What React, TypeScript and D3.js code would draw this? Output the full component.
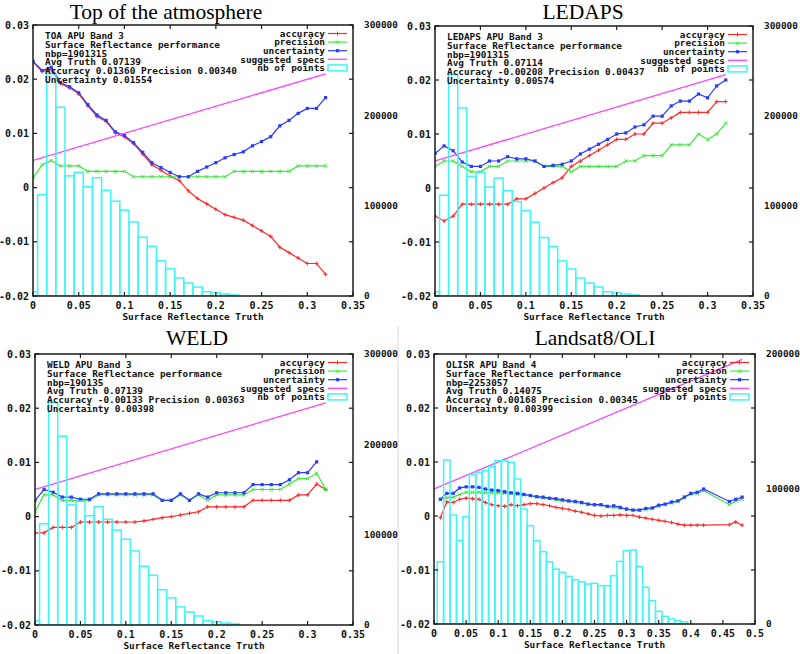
import React from 'react';
import * as d3 from 'd3';

// ---- data ----
const titles = ['Top of the atmosphere', 'LEDAPS', 'WELD', 'Landsat8/OLI'];
const legendLabels = ['accuracy', 'precision', 'uncertainty', 'suggested specs', 'nb of points'];

const infoTOA = ['TOA APU Band 3', 'Surface Reflectance performance', 'nbp=1901315', 'Avg Truth 0.07139', 'Accuracy 0.01360 Precision 0.00340', 'Uncertainty 0.01554'];
const infoLEDAPS = ['LEDAPS APU Band 3', 'Surface Reflectance performance', 'nbp=1901315', 'Avg Truth 0.07114', 'Accuracy -0.00208 Precision 0.00437', 'Uncertainty 0.00574'];
const infoWELD = ['WELD APU Band 3', 'Surface Reflectance performance', 'nbp=190135', 'Avg Truth 0.07139', 'Accuracy -0.00133 Precision 0.00363', 'Uncertainty 0.00398'];
const infoOLI = ['OLISR APU Band 4', 'Surface Reflectance performance', 'nbp=2253057', 'Avg Truth 0.14075', 'Accuracy 0.00168 Precision 0.00345', 'Uncertainty 0.00399'];

// reflectance bins (band 3 panels)
const band3X = [0, 0.01, 0.02, 0.03, 0.04, 0.05, 0.06, 0.07, 0.08, 0.09, 0.1, 0.11, 0.12, 0.13, 0.14, 0.15, 0.16,
  0.17, 0.18, 0.19, 0.2, 0.21, 0.22, 0.23, 0.24, 0.25, 0.26, 0.27, 0.28, 0.29, 0.3, 0.31, 0.32];

const toaAccuracy = [0.0232, 0.0214, 0.0218, 0.0192, 0.0184, 0.0173, 0.0151, 0.0131, 0.0122, 0.0101, 0.0094, 0.0081, 0.0062,
  0.0042, 0.0032, 0.0021, 0.0013, -0.0006, -0.002, -0.003, -0.004, -0.005, -0.0055, -0.006, -0.007, -0.008, -0.009,
  -0.011, -0.012, -0.013, -0.014, -0.014, -0.016];
const toaPrecision = [0.0018, 0.0042, 0.005, 0.004, 0.004, 0.004, 0.003, 0.003, 0.003, 0.003, 0.003, 0.002, 0.002, 0.002,
  0.002, 0.002, 0.002, 0.002, 0.002, 0.002, 0.002, 0.002, 0.003, 0.003, 0.003, 0.003, 0.003, 0.003, 0.003, 0.004, 0.004,
  0.004, 0.004];
const toaUncertainty = [0.0233, 0.0216, 0.0222, 0.0194, 0.0186, 0.0175, 0.0153, 0.0134, 0.0124, 0.0103, 0.0096, 0.0083,
  0.0065, 0.0046, 0.0037, 0.0028, 0.002, 0.002, 0.003, 0.0038, 0.0046, 0.0055, 0.0061, 0.0066, 0.0077, 0.0085, 0.0094,
  0.0114, 0.0124, 0.0137, 0.0146, 0.0146, 0.0166];

const ledapsAccuracy = [-0.0052, -0.0061, -0.0052, -0.003, -0.003, -0.003, -0.003, -0.003, -0.003, -0.002, -0.002, -0.001,
  0.0, 0.001, 0.0019, 0.004, 0.005, 0.006, 0.007, 0.008, 0.009, 0.009, 0.01, 0.01, 0.012, 0.012, 0.013, 0.014, 0.014,
  0.014, 0.014, 0.016, 0.016];
const ledapsPrecision = [0.004, 0.005, 0.005, 0.004, 0.003, 0.003, 0.004, 0.004, 0.005, 0.005, 0.005, 0.005, 0.004, 0.004,
  0.004, 0.003, 0.004, 0.004, 0.004, 0.004, 0.004, 0.005, 0.005, 0.006, 0.006, 0.006, 0.008, 0.008, 0.008, 0.01, 0.009,
  0.01, 0.012];
const ledapsUncertainty = [0.0064, 0.0078, 0.0069, 0.0048, 0.004, 0.004, 0.005, 0.005, 0.0058, 0.0054, 0.0054, 0.005, 0.004,
  0.0042, 0.0044, 0.005, 0.0063, 0.0072, 0.0081, 0.009, 0.01, 0.0102, 0.0113, 0.0117, 0.0133, 0.0133, 0.0152, 0.0161,
  0.0161, 0.0174, 0.0167, 0.0189, 0.02];

const weldAccuracy = [-0.003, -0.003, -0.002, -0.002, -0.002, -0.001, -0.001, -0.001, -0.001, -0.001, -0.001, -0.001,
  -0.0008, -0.0005, -0.0002, 0.0, 0.0003, 0.0006, 0.0009, 0.0018, 0.0018, 0.0018, 0.0018, 0.0018, 0.003, 0.003, 0.003,
  0.003, 0.003, 0.004, 0.004, 0.006, 0.005];
const weldPrecision = [0.001, 0.004, 0.004, 0.003, 0.003, 0.003, 0.003, 0.004, 0.004, 0.004, 0.004, 0.004, 0.004, 0.004,
  0.003, 0.003, 0.004, 0.003, 0.004, 0.003, 0.004, 0.004, 0.004, 0.004, 0.005, 0.005, 0.005, 0.005, 0.006, 0.007, 0.007,
  0.008, 0.005];
const weldUncertainty = [0.003, 0.005, 0.0045, 0.0036, 0.0036, 0.0032, 0.0032, 0.0042, 0.0042, 0.0042, 0.0042, 0.0042,
  0.0042, 0.0042, 0.003, 0.003, 0.0042, 0.003, 0.0042, 0.0036, 0.0044, 0.0044, 0.0044, 0.0044, 0.0059, 0.0059, 0.0059,
  0.0059, 0.0068, 0.0081, 0.0081, 0.0101, null];

// OLI bins (0.43-0.45 are missing in the source)
const oliX = [0.01, 0.02, 0.03, 0.04, 0.05, 0.06, 0.07, 0.08, 0.09, 0.1, 0.11, 0.12, 0.13, 0.14, 0.15, 0.16, 0.17, 0.18,
  0.19, 0.2, 0.21, 0.22, 0.23, 0.24, 0.25, 0.26, 0.27, 0.28, 0.29, 0.3, 0.31, 0.32, 0.33, 0.34, 0.35, 0.36, 0.37, 0.38,
  0.39, 0.4, 0.41, 0.42, 0.46, 0.47, 0.48];
const oliAccuracy = [-0.0003, 0.0026, 0.0025, 0.0031, 0.0033, 0.0032, 0.0031, 0.0025, 0.0021, 0.0019, 0.0018, 0.0021,
  0.0019, 0.0021, 0.0023, 0.0023, 0.0021, 0.0019, 0.0016, 0.0014, 0.0012, 0.0009, 0.0007, 0.0004, 0.0001, 0.0, 0.0001,
  0.0001, 0.0002, 0.0001, 0.0001, -0.0002, -0.0004, -0.0006, -0.0008, -0.001, -0.0012, -0.0015, -0.0017, -0.0017,
  -0.0017, -0.0017, -0.0016, -0.0011, -0.0017];
const oliPrecision = [0.003, 0.0034, 0.0035, 0.004, 0.0044, 0.0044, 0.0044, 0.0043, 0.0043, 0.0043, 0.0042, 0.0042, 0.004,
  0.0039, 0.0037, 0.0035, 0.0033, 0.0032, 0.003, 0.0028, 0.0027, 0.0025, 0.0024, 0.0022, 0.002, 0.002, 0.0017, 0.0016,
  0.0014, 0.0012, 0.0011, 0.0011, 0.0012, 0.0014, 0.0018, 0.0021, 0.0024, 0.0027, 0.0034, 0.004, 0.0042, 0.0047, 0.0021,
  0.0028, 0.0031];
const oliUncertainty = [0.0031, 0.0042, 0.0042, 0.0052, 0.0054, 0.0054, 0.0053, 0.005, 0.0048, 0.0047, 0.0045, 0.0043,
  0.0042, 0.004, 0.0038, 0.0036, 0.0035, 0.0033, 0.0032, 0.003, 0.0028, 0.0027, 0.0025, 0.0022, 0.0021, 0.0021, 0.0018,
  0.0019, 0.0016, 0.0013, 0.0011, 0.0011, 0.0014, 0.0015, 0.002, 0.0022, 0.0026, 0.0028, 0.0035, 0.0042, 0.0044, 0.005,
  0.0027, 0.0031, 0.0035];

// suggested specs (straight line)
const band3SpecX = [0, 0.32];
const band3SpecY = [0.005, 0.021];
const oliSpecX = [0, 0.48];
const oliSpecY = [0.005, 0.029];

// nb of points histograms
const band3HistX = [0, 0.01, 0.02, 0.03, 0.04, 0.05, 0.06, 0.07, 0.08, 0.09, 0.1, 0.11, 0.12, 0.13, 0.14, 0.15, 0.16, 0.17,
  0.18, 0.19, 0.2, 0.21, 0.22];
const band3Counts = [4800, 112000, 246000, 209000, 133000, 137000, 121000, 131000, 117000, 105000, 95000, 82000, 65000,
  55000, 39000, 30000, 20000, 14400, 10000, 4800, 3500, 2200, 1100];
const oliHistX = [0.01, 0.02, 0.03, 0.04, 0.05, 0.06, 0.07, 0.08, 0.09, 0.1, 0.11, 0.12, 0.13, 0.14, 0.15, 0.16, 0.17, 0.18,
  0.19, 0.2, 0.21, 0.22, 0.23, 0.24, 0.25, 0.26, 0.27, 0.28, 0.29, 0.3, 0.31, 0.32, 0.33, 0.34, 0.35, 0.36, 0.37, 0.38, 0.39];
const oliCounts = [46100, 121500, 80700, 61700, 79500, 110600, 112300, 113600, 116500, 121000, 121000, 119700, 107400, 85200,
  72800, 61700, 53600, 46100, 40700, 38300, 35300, 32800, 31300, 29600, 30100, 28400, 28400, 35800, 46400, 54300, 54800,
  42500, 27200, 17300, 9400, 5700, 3700, 2500, 1700];
const binWidth = 0.01;

// ---- styling ----
const MONO = '"DejaVu Sans Mono", "Liberation Mono", monospace';
const SERIF = '"Liberation Serif", "Times New Roman", "DejaVu Serif", serif';
const C_ACC = '#ff2a2a';
const C_PREC = '#3ee83e';
const C_UNC = '#2a3cff';
const C_SPEC = '#ff40ff';
const C_HIST = '#3ff5f5';

type Series = (number | null)[];
type PanelCfg = {
  id: string; title: string; titleX: number; titleY: number;
  left: number; right: number; top: number; bottom: number;
  xMax: number; xTickCount: number; y2Max: number; y2TickCount: number;
  info: string[]; xs: number[]; acc: Series; prec: Series; unc: Series;
  specX: number[]; specY: number[]; histX: number[]; histY: number[];
};

const panels: PanelCfg[] = [
  { id: 'toa', title: titles[0], titleX: 166, titleY: 19, left: 33, right: 353, top: 25, bottom: 296,
    xMax: 0.35, xTickCount: 7, y2Max: 300000, y2TickCount: 3, info: infoTOA, xs: band3X,
    acc: toaAccuracy, prec: toaPrecision, unc: toaUncertainty, specX: band3SpecX, specY: band3SpecY,
    histX: band3HistX, histY: band3Counts },
  { id: 'ledaps', title: titles[1], titleX: 583, titleY: 19, left: 435, right: 753, top: 26, bottom: 296,
    xMax: 0.35, xTickCount: 7, y2Max: 300000, y2TickCount: 3, info: infoLEDAPS, xs: band3X,
    acc: ledapsAccuracy, prec: ledapsPrecision, unc: ledapsUncertainty, specX: band3SpecX, specY: band3SpecY,
    histX: band3HistX, histY: band3Counts },
  { id: 'weld', title: titles[2], titleX: 197, titleY: 345, left: 35, right: 353, top: 354, bottom: 625,
    xMax: 0.35, xTickCount: 7, y2Max: 300000, y2TickCount: 3, info: infoWELD, xs: band3X,
    acc: weldAccuracy, prec: weldPrecision, unc: weldUncertainty, specX: band3SpecX, specY: band3SpecY,
    histX: band3HistX, histY: band3Counts },
  { id: 'oli', title: titles[3], titleX: 595, titleY: 345, left: 434, right: 755, top: 354, bottom: 624,
    xMax: 0.5, xTickCount: 10, y2Max: 200000, y2TickCount: 2, info: infoOLI, xs: oliX,
    acc: oliAccuracy, prec: oliPrecision, unc: oliUncertainty, specX: oliSpecX, specY: oliSpecY,
    histX: oliHistX, histY: oliCounts },
];

const plus = (cx: number, cy: number, s = 2) => `M${cx - s},${cy}H${cx + s}M${cx},${cy - s}V${cy + s}`;
const cross = (cx: number, cy: number, s = 1.7) => `M${cx - s},${cy - s}L${cx + s},${cy + s}M${cx - s},${cy + s}L${cx + s},${cy - s}`;

function Panel({ p }: { p: PanelCfg }) {
  const x = d3.scaleLinear().domain([0, p.xMax]).range([p.left, p.right]);
  const y = d3.scaleLinear().domain([-0.02, 0.03]).range([p.bottom, p.top]);
  const y2 = d3.scaleLinear().domain([0, p.y2Max]).range([p.bottom, p.top]);

  const path = (xs: number[], ys: Series) =>
    d3.line<number>()
      .defined((_, i) => ys[i] != null)
      .x((d) => x(d))
      .y((_, i) => y(ys[i] as number))(xs) || '';

  const pts = (ys: Series) => p.xs.map((v, i) => (ys[i] == null ? null : [x(v), y(ys[i] as number)])).filter(Boolean) as [number, number][];

  const clip = `clip-${p.id}`;
  const tk = 4;
  const legendX = p.right - 28;
  const sx0 = p.right - 25;
  const sx1 = p.right - 6;
  const rowY = (i: number) => p.top + 8.5 + i * 8.6;

  return (
    <g>
      <defs>
        <clipPath id={clip}>
          <rect x={p.left} y={p.top} width={p.right - p.left} height={p.bottom - p.top} />
        </clipPath>
      </defs>
      <text x={p.titleX} y={p.titleY} textAnchor="middle" fontFamily={SERIF} fontSize={21.5} fill="#000">{p.title}</text>

      <g clipPath={`url(#${clip})`}>
        <path d={path(p.xs, p.acc)} fill="none" stroke={C_ACC} strokeWidth={1.2} />
        {pts(p.acc).map(([cx, cy], i) => <path key={'a' + i} d={plus(cx, cy)} stroke={C_ACC} strokeWidth={1} />)}
        <path d={path(p.xs, p.prec)} fill="none" stroke={C_PREC} strokeWidth={1.2} />
        {pts(p.prec).map(([cx, cy], i) => <path key={'p' + i} d={cross(cx, cy)} stroke={C_PREC} strokeWidth={1} />)}
        <path d={path(p.xs, p.unc)} fill="none" stroke={C_UNC} strokeWidth={1.2} />
        {pts(p.unc).map(([cx, cy], i) => <rect key={'u' + i} x={cx - 1.6} y={cy - 1.6} width={3.2} height={3.2} fill={C_UNC} />)}
        <path d={path(p.specX, p.specY)} fill="none" stroke={C_SPEC} strokeWidth={1.3} />
        {p.histX.map((c, i) => (
          <rect key={'h' + i} x={x(c - binWidth / 2)} y={y2(p.histY[i])}
            width={x(c + binWidth / 2) - x(c - binWidth / 2)} height={y2(0) - y2(p.histY[i])}
            fill="none" stroke={C_HIST} strokeWidth={1.5} />
        ))}
      </g>

      {/* frame and ticks */}
      <rect x={p.left} y={p.top} width={p.right - p.left} height={p.bottom - p.top} fill="none" stroke="#1a1a1a" strokeWidth={1.5} />
      {y.ticks(5).map((t) => (
        <g key={'yt' + t}>
          <line x1={p.left} x2={p.left + tk} y1={y(t)} y2={y(t)} stroke="#1a1a1a" strokeWidth={1.2} />
          <line x1={p.right - tk} x2={p.right} y1={y(t)} y2={y(t)} stroke="#1a1a1a" strokeWidth={1.2} />
          <text x={p.left - 4} y={y(t)} dy="0.35em" textAnchor="end" fontFamily={MONO} fontWeight="bold" fontSize={10} fill="#111">{String(t)}</text>
        </g>
      ))}
      {x.ticks(p.xTickCount).map((t) => (
        <g key={'xt' + t}>
          <line x1={x(t)} x2={x(t)} y1={p.bottom} y2={p.bottom - tk} stroke="#1a1a1a" strokeWidth={1.2} />
          <line x1={x(t)} x2={x(t)} y1={p.top} y2={p.top + tk} stroke="#1a1a1a" strokeWidth={1.2} />
          <text x={x(t)} y={p.bottom + 13} textAnchor="middle" fontFamily={MONO} fontWeight="bold" fontSize={10} fill="#111">{String(t)}</text>
        </g>
      ))}
      {y2.ticks(p.y2TickCount).map((t) => (
        <text key={'y2' + t} x={p.right + 11} y={y2(t)} dy="0.35em" fontFamily={MONO} fontWeight="bold" fontSize={9.4} fill="#111">{String(t)}</text>
      ))}
      <text x={(p.left + p.right) / 2} y={p.bottom + 24} textAnchor="middle" fontFamily={MONO} fontWeight="bold" fontSize={9.4} fill="#111">Surface Reflectance Truth</text>

      {/* info block */}
      {p.info.map((s, i) => (
        <text key={'i' + i} x={p.left + 12} y={p.top + 11 + i * 8.7} dy="0.35em" fontFamily={MONO} fontWeight="bold" fontSize={9.4} fill="#111">{s}</text>
      ))}

      {/* legend */}
      {legendLabels.map((s, i) => (
        <text key={'l' + i} x={legendX} y={rowY(i)} dy="0.35em" textAnchor="end" fontFamily={MONO} fontWeight="bold" fontSize={9.4} fill="#111">{s}</text>
      ))}
      <line x1={sx0} x2={sx1} y1={rowY(0)} y2={rowY(0)} stroke={C_ACC} strokeWidth={1.2} />
      <path d={plus((sx0 + sx1) / 2, rowY(0))} stroke={C_ACC} strokeWidth={1} />
      <line x1={sx0} x2={sx1} y1={rowY(1)} y2={rowY(1)} stroke={C_PREC} strokeWidth={1.2} />
      <path d={cross((sx0 + sx1) / 2, rowY(1))} stroke={C_PREC} strokeWidth={1} />
      <line x1={sx0} x2={sx1} y1={rowY(2)} y2={rowY(2)} stroke={C_UNC} strokeWidth={1.2} />
      <rect x={(sx0 + sx1) / 2 - 1.6} y={rowY(2) - 1.6} width={3.2} height={3.2} fill={C_UNC} />
      <line x1={sx0} x2={sx1} y1={rowY(3)} y2={rowY(3)} stroke={C_SPEC} strokeWidth={1.3} />
      <rect x={sx0} y={rowY(4) - 3} width={sx1 - sx0} height={6} fill="none" stroke={C_HIST} strokeWidth={1.5} />
    </g>
  );
}

export default function App() {
  return (
    <svg width={800} height={654} style={{ position: 'absolute', left: 0, top: 0, background: '#fff' }}>
      <rect width={800} height={654} fill="#fff" />
      <line x1={398} x2={398} y1={326} y2={654} stroke="#d8d8d8" strokeWidth={1} />
      {panels.map((p) => <Panel key={p.id} p={p} />)}
    </svg>
  );
}
